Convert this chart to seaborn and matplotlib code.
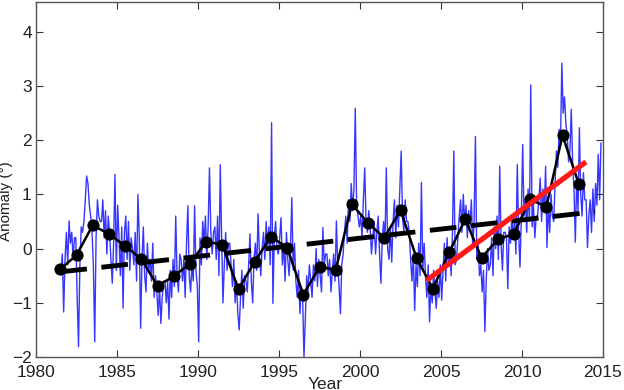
import numpy as np
import pandas as pd
import matplotlib
matplotlib.use("Agg")
import matplotlib.pyplot as plt
import seaborn as sns

# ---- data ----
start_year = 1981
start_month = 6  # first monthly value: July 1981 (0-based month index)
monthly = {
    1981: [-0.4, -0.1, -1.17, -0.2, 0.3, -0.3],
    1982: [0.51, 0.1, 0.3, -0.2, 0.2, 0.2, -0.9, -1.81, -0.3, 0.4, 0.3, 0.5],
    1983: [0.9, 1.34, 1.2, 0.8, 0.6, 0.3, -0.3, -1.72, 0.2, 0.9, 0.6, 0.5],
    1984: [0.5, 0.9, 0.2, 0.7, -0.1, 0.6, 0.3, -0.2, -0.64, 0.1, 1.37, -0.4],
    1985: [0.8, 0.2, -0.5, 0.4, -1.1, 0.3, 0.6, -0.2, 0.5, -0.4, 0.2, 0.0],
    1986: [-0.3, 0.3, -0.6, 1.0, 0.2, -1.47, -0.2, 0.4, -0.5, -0.8, 0.1, -0.4],
    1987: [-0.2, -0.6, 0.1, -0.9, -0.5, -0.8, -1.23, -0.7, -1.38, -0.9, -0.6, -0.6],
    1988: [-1.0, -0.6, -1.3, -0.4, -0.9, -0.2, -0.7, 0.6, -0.5, -0.8, -0.1, -0.2],
    1989: [-0.6, -0.2, -0.9, 0.1, 0.79, -0.5, -0.8, -0.3, -0.6, 0.79, -0.4, -0.7],
    1990: [-1.72, 0.2, -0.3, 0.5, 0.1, 0.6, -0.2, 0.4, 1.49, 0.3, -0.1, 0.3],
    1991: [0.4, -0.2, 0.6, -0.5, 1.55, 0.2, -1.0, -0.3, 0.3, -0.4, 0.1, 0.1],
    1992: [-0.3, -0.7, -0.2, -1.0, -0.6, -1.2, -1.5, -0.9, -0.4, -1.1, -0.5, -0.6],
    1993: [-0.8, -0.3, 0.27, -0.6, -1.0, -0.2, 0.1, -0.4, 0.64, -0.1, -0.5, 0.0],
    1994: [0.3, -0.2, 0.5, 0.0, 0.4, -0.3, 2.32, -1.01, 0.2, 0.5, 0.0, -0.1],
    1995: [0.2, 0.57, -0.3, 0.1, -0.6, 0.3, -0.2, -0.5, 0.0, 0.94, -0.4, 0.1],
    1996: [-0.6, -0.9, -0.4, -1.2, -0.7, -0.9, -2.0, -1.3, -0.5, -0.8, -0.3, -0.6],
    1997: [-0.9, -0.3, -0.6, 0.0, -0.7, -0.2, -0.5, -0.8, 0.39, -0.3, -0.1, -0.1],
    1998: [-0.5, -0.2, -0.8, -0.4, -0.1, -0.6, 0.51, -0.3, -0.7, -1.2, -0.3, -0.1],
    1999: [0.3, 0.6, 0.1, 0.9, 0.5, 1.2, 0.7, 1.1, 2.59, 0.8, 0.6, 0.4],
    2000: [0.6, 0.2, 0.9, 1.49, 0.5, 0.3, 0.7, 0.4, -0.1, 0.2, 0.5, -0.1],
    2001: [0.3, 0.6, -0.1, -0.64, 0.2, 0.5, 0.1, 1.49, 0.0, -0.2, 0.4, -0.25],
    2002: [0.5, 0.9, 0.2, 0.8, 0.4, 1.1, 1.8, 0.6, 0.3, 0.9, 0.5, 0.5],
    2003: [0.3, -0.2, -0.6, -0.1, -1.14, -0.3, -0.7, 0.1, -0.5, 1.22, -0.4, 0.1],
    2004: [-0.5, -0.9, -0.3, -1.35, -0.7, -1.0, -0.4, -0.8, -1.1, -0.6, -0.9, -0.3],
    2005: [-0.95, -0.4, 0.1, -0.6, 0.2, -0.3, 0.0, -0.5, 0.3, 1.8, -0.3, -0.2],
    2006: [0.2, 0.6, 0.9, 0.3, 1.0, 0.5, 0.8, 0.2, 0.7, 0.4, 0.9, 0.0],
    2007: [0.5, 2.07, -0.2, 0.1, -0.5, -0.3, -0.8, -0.4, -1.53, -0.6, 0.0, -0.4],
    2008: [-0.3, 0.2, -0.5, 0.4, 0.0, 0.6, -0.2, 1.52, 0.1, -0.4, 0.3, 0.3],
    2009: [0.2, -0.74, 0.4, 0.1, 0.6, 0.2, 0.5, -0.1, 1.55, 0.3, -0.34, 0.55],
    2010: [1.92, 0.6, 0.9, 0.3, 1.1, 0.5, 3.02, 0.4, 0.8, 0.2, 0.6, 0.6],
    2011: [0.9, 1.3, 0.5, 1.1, 0.7, 1.52, 0.02, 0.8, 0.3, 1.0, 0.6, 0.5],
    2012: [1.2, 1.8, 1.5, 2.2, 1.9, 3.42, 2.5, 2.8, 2.3, 2.1, 1.6, 1.8],
    2013: [2.57, 1.6, 1.1, 0.12, 1.3, 0.7, 2.23, 1.0, 0.6, 1.4, 0.9, 0.9],
    2014: [0.02, 0.6, 0.9, 0.3, 1.1, 0.5, 1.2, 0.8, 1.74, 0.9, 1.95],
}

annual_years = list(range(1981, 2014))
annual_means = [-0.38, -0.12, 0.43, 0.27, 0.05, -0.19, -0.69, -0.51, -0.28, 0.13,
                0.07, -0.75, -0.24, 0.22, 0.02, -0.85, -0.34, -0.39, 0.82, 0.47,
                0.20, 0.71, -0.18, -0.74, -0.07, 0.54, -0.17, 0.17, 0.27, 0.91,
                0.77, 2.09, 1.20]

long_trend_years = [1981.5, 2014.5]
long_trend_vals = [-0.43, 0.68]
recent_trend_years = [2004.1, 2013.95]
recent_trend_vals = [-0.59, 1.60]

x_ticks = [1980, 1985, 1990, 1995, 2000, 2005, 2010, 2015]
y_ticks = [-2, -1, 0, 1, 2, 3, 4]

# ---- build tables ----
t_list, v_list = [], []
for yr, vals in monthly.items():
    m0 = start_month if yr == start_year else 0
    for i, v in enumerate(vals):
        t_list.append(yr + (m0 + i + 0.5) / 12.0)
        v_list.append(v)
df_month = pd.DataFrame({"t": t_list, "v": v_list})
df_year = pd.DataFrame({"t": np.array(annual_years) + 0.5, "v": annual_means})

sns.set_style("ticks")
plt.rcParams["font.family"] = ["Liberation Sans", "DejaVu Sans"]

fig = plt.figure(figsize=(6.24, 3.9), dpi=100)
ax = fig.add_axes([36 / 624, 33 / 390, 567 / 624, 355 / 390])

sns.lineplot(data=df_month, x="t", y="v", ax=ax, color="#2020ff", lw=1.0,
             estimator=None, sort=False, alpha=0.9)
sns.lineplot(x=long_trend_years, y=long_trend_vals, ax=ax, color="black", lw=3.5,
             linestyle=(0, (5.5, 3)), estimator=None)
sns.lineplot(data=df_year, x="t", y="v", ax=ax, color="black", lw=1.8,
             marker="o", markersize=8, markeredgecolor="black", estimator=None)
sns.lineplot(x=recent_trend_years, y=recent_trend_vals, ax=ax, color="#ff1a1a",
             lw=3.8, estimator=None, solid_capstyle="butt")

ax.set_xlim(1980, 2015)
ax.set_ylim(-2, 4.55)
ax.set_xticks(x_ticks)
ax.set_yticks(y_ticks)
ax.tick_params(direction="in", length=5, width=0.8, top=True, right=True,
               labelsize=12.5, colors="#333333", labelcolor="#222222", pad=3)
ax.tick_params(axis="x", pad=6)
for s in ax.spines.values():
    s.set_color("#555555")
    s.set_linewidth(1.0)

ax.set_xlabel("Year", fontsize=12.5, color="#222222")
ax.set_ylabel("Anomaly (°)", fontsize=11, color="#222222")
ax.xaxis.set_label_coords(0.51, -0.055)
ax.yaxis.set_label_coords(-0.04, 0.44)

fig.savefig("out.png", dpi=100, facecolor="white")
